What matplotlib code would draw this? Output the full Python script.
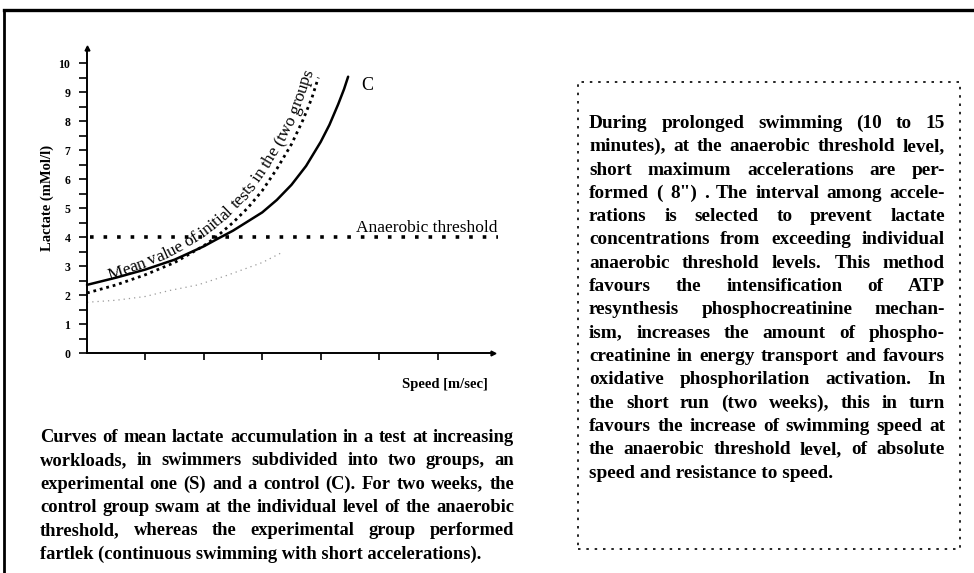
import matplotlib
matplotlib.use("Agg")
import matplotlib.pyplot as plt
from matplotlib.lines import Line2D
from matplotlib.patches import Rectangle
import numpy as np

W, H = 974, 573

# ----- values -----
# C: control group after two weeks (solid)
speed_c = [0, 0.5, 1.0, 1.5, 2.0, 2.2, 2.5, 3.0, 3.25, 3.5, 3.75, 4.0, 4.15, 4.3, 4.4, 4.47]
lactate_c = [2.35, 2.6, 2.88, 3.22, 3.68, 3.9, 4.22, 4.85, 5.28, 5.8, 6.45, 7.28, 7.87, 8.58, 9.1, 9.53]

# mean value of the initial tests (heavy dots)
speed_m = [0, 0.5, 1.0, 1.5, 2.0, 2.2, 2.5, 2.75, 3.0, 3.25, 3.5, 3.7, 3.85, 3.96]
lactate_m = [2.07, 2.35, 2.7, 3.12, 3.7, 3.98, 4.5, 5.0, 5.6, 6.35, 7.2, 8.05, 8.8, 9.5]

# S: experimental group (faded in the scan)
speed_s = [0, 0.5, 1.0, 1.4, 1.9, 2.4, 3.0, 3.35]
lactate_s = [1.75, 1.82, 1.95, 2.15, 2.35, 2.68, 3.12, 3.48]

threshold = 4.0
y_ticks = list(range(0, 11))
x_ticks = [1, 2, 3, 4, 5, 6]

curve_label = "Mean value of initial tests in the (two groups"

caption_lines = [
    "Curves of mean lactate accumulation in a test at increasing",
    "workloads, in swimmers subdivided into two groups, an",
    "experimental one (S) and a control (C). For two weeks, the",
    "control group swam at the individual level of the anaerobic",
    "threshold, whereas the experimental group performed",
    "fartlek (continuous swimming with short accelerations).",
]

box_lines = [
    "During prolonged swimming (10 to 15",
    "minutes), at the anaerobic threshold level,",
    "short maximum accelerations are per-",
    "formed ( 8\") . The interval among accele-",
    "rations is selected to prevent lactate",
    "concentrations from exceeding individual",
    "anaerobic threshold levels. This method",
    "favours the intensification of ATP",
    "resynthesis phosphocreatinine mechan-",
    "ism, increases the amount of phospho-",
    "creatinine in energy transport and favours",
    "oxidative phosphorilation activation. In",
    "the short run (two weeks), this in turn",
    "favours the increase of swimming speed at",
    "the anaerobic threshold level, of absolute",
    "speed and resistance to speed.",
]

SERIF = ["Liberation Serif", "DejaVu Serif"]
plt.rcParams["font.family"] = SERIF

fig = plt.figure(figsize=(W / 100, H / 100), dpi=100)
renderer = fig.canvas.get_renderer()


def fx(px):
    return px / W


def fy(py):
    return 1 - py / H


def text_width(s, size, weight="bold"):
    t = fig.text(0, 0, s, fontsize=size, fontweight=weight)
    w = t.get_window_extent(renderer).width
    t.remove()
    return w


# ----- outer frame (page edge of the scan) -----
fig.add_artist(Line2D([fx(4), fx(974)], [fy(10), fy(10)], color="black", lw=2.4))
fig.add_artist(Line2D([fx(4), fx(4)], [fy(10), fy(573)], color="black", lw=2.0))

# ----- plot area -----
ax_l, ax_r, ax_b, ax_t = 87, 493, 353, 48
ax = fig.add_axes([fx(ax_l), fy(ax_b), (ax_r - ax_l) / W, (ax_b - ax_t) / H])
ax.set_xlim(0, 6.95)
ax.set_ylim(0, 10.52)
for side in ["top", "right"]:
    ax.spines[side].set_visible(False)
for side in ["left", "bottom"]:
    ax.spines[side].set_linewidth(1.4)

ax.set_yticks(y_ticks)
ax.set_yticks(np.arange(0.5, 10.5, 1), minor=True)
ax.set_xticks(x_ticks)
ax.set_xticklabels([])
ax.tick_params(axis="y", which="both", direction="out", length=6, width=1.2,
               labelsize=8.5, pad=6)
ax.tick_params(axis="x", direction="out", length=5, width=1.2)
for lbl in ax.get_yticklabels():
    lbl.set_fontweight("bold")

# arrow heads at the axis ends
ax.plot([0], [1], marker="^", color="black", ms=3.5, transform=ax.transAxes, clip_on=False)
ax.plot([1], [0], marker=">", color="black", ms=3.5, transform=ax.transAxes, clip_on=False)

ax.plot(speed_s, lactate_s, color="#9a9a9a", lw=0.9, linestyle=(0, (1, 3.2)), clip_on=False)
ax.plot(speed_m, lactate_m, color="black", lw=2.0, linestyle=(0, (1, 1.4)), clip_on=False)
ax.plot(speed_c, lactate_c, color="black", lw=1.8, solid_capstyle="round", clip_on=False)
ax.axhline(threshold, xmin=0.008, xmax=1.013, color="black", lw=2.6,
           linestyle=(0, (1, 2.75)), dash_capstyle="butt", clip_on=False)

ax.text(speed_c[-1] + 0.22, lactate_c[-1] - 0.3, "C", fontsize=13, va="center", ha="left")
fig.text(fx(497), fy(232), "Anaerobic threshold", fontsize=12.5, ha="right", va="baseline")
fig.text(fx(488), fy(388), "Speed [m/sec]", fontsize=10.5, fontweight="bold",
         ha="right", va="baseline")
fig.text(fx(47), fy(198), "Lactate (mMol/l)", fontsize=10.5, fontweight="bold",
         rotation=90, ha="center", va="center")

# ----- label bent along the dotted curve -----
pts = ax.transData.transform(np.column_stack([speed_m, lactate_m]))
seg = np.hypot(np.diff(pts[:, 0]), np.diff(pts[:, 1]))
arc = np.concatenate([[0], np.cumsum(seg)])
tail = (pts[-1] - pts[-2]) / seg[-1]


def point_at(s):
    if s > arc[-1]:
        return pts[-1] + tail * (s - arc[-1])
    return np.array([np.interp(s, arc, pts[:, 0]), np.interp(s, arc, pts[:, 1])])


label_size = 12.5
start = ax.transData.transform((0.42, np.interp(0.42, speed_m, lactate_m)))
s0 = np.interp(start[0], pts[:, 0], arc)
bar = text_width("|", label_size, "normal")
prev = 0.0
for i, ch in enumerate(curve_label):
    adv = text_width(curve_label[:i + 1] + "|", label_size, "normal") - bar
    s_mid = s0 + (prev + adv) / 2
    prev = adv
    p_a, p_b = point_at(s_mid - 8), point_at(s_mid + 8)
    d = p_b - p_a
    ang = np.degrees(np.arctan2(d[1], d[0]))
    nrm = np.array([-d[1], d[0]]) / np.hypot(*d)
    p = point_at(s_mid) + nrm * 7
    fig.text(p[0] / W, p[1] / H, ch, fontsize=label_size, rotation=ang,
             rotation_mode="anchor", ha="center", va="baseline")


# ----- justified paragraphs -----
def paragraph(lines, left, right, base, step):
    width = right - left
    natural = max(text_width(l, 10) for l in lines[:-1])
    size = 10 * width * 0.985 / natural
    for k, line in enumerate(lines):
        y = fy(base + k * step)
        words = line.split(" ")
        if k == len(lines) - 1 or len(words) == 1:
            fig.text(fx(left), y, line, fontsize=size, fontweight="bold", va="baseline")
            continue
        widths = [text_width(w, size) for w in words]
        gap = (width - sum(widths)) / (len(words) - 1)
        x = left
        for w, wd in zip(words, widths):
            fig.text(fx(x), y, w, fontsize=size, fontweight="bold", va="baseline")
            x += wd + gap


paragraph(caption_lines, 40, 514, 442, 23.3)
paragraph(box_lines, 589, 945, 128, 23.3)

fig.add_artist(Rectangle((fx(578), fy(549)), (960 - 578) / W, (549 - 82) / H,
                         transform=fig.transFigure, fill=False, color="black",
                         lw=1.2, linestyle=(0, (1.5, 3.5))))

fig.savefig("out.png", dpi=100)
